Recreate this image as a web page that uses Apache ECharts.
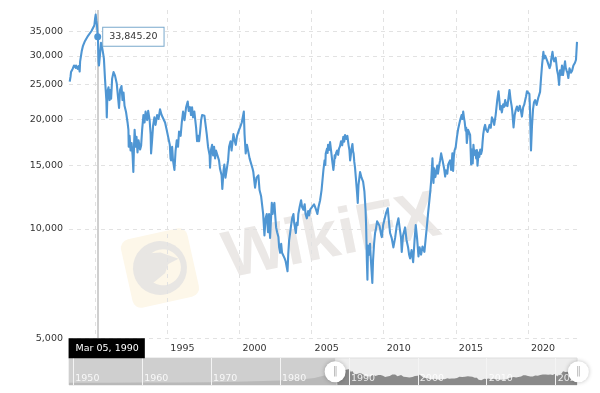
<!DOCTYPE html>
<html>
<head>
<meta charset="utf-8">
<style>html,body{margin:0;padding:0;background:#fff}#c{width:600px;height:393px}</style>
<script src="https://cdn.jsdelivr.net/npm/echarts@6/dist/echarts.min.js"></script>
</head>
<body>
<div id="c"></div>
<script>
const points = [
[1988.23,25450],[1988.29,26350],[1988.32,27050],[1988.43,27600],[1988.53,28200],[1988.64,27800],[1988.67,28200],[1988.78,27600],[1988.85,28100],[1988.92,27150],[1988.95,28900],
[1989.06,30850],[1989.15,31950],[1989.29,32950],[1989.36,32550],[1989.5,34050],[1989.57,33650],[1989.74,35100],[1989.85,35500],[1989.94,36400],[1989.99,38000],
[1990.03,38950],[1990.07,37600],[1990.12,36400],[1990.17,33845],[1990.19,33150],[1990.23,28850],[1990.26,28200],[1990.33,30250],[1990.4,32550],[1990.47,31750],[1990.54,30550],[1990.6,29450],[1990.68,25750],[1990.73,23950],[1990.77,22650],[1990.8,20300],[1990.85,23950],[1990.92,24550],[1990.99,22650],
[1991.03,24150],[1991.1,22850],[1991.17,25950],[1991.27,27050],[1991.37,26450],[1991.49,25150],[1991.58,23050],[1991.65,21550],[1991.72,24150],[1991.82,24750],[1991.89,22650],[1991.96,23750],
[1992.03,21850],[1992.13,21050],[1992.24,19650],[1992.3,18750],[1992.32,16850],[1992.38,18050],[1992.45,16450],[1992.52,17250],[1992.59,15950],[1992.64,14350],[1992.69,17050],[1992.73,18750],[1992.8,16850],[1992.86,17950],[1992.93,16250],
[1993.0,17550],[1993.11,16550],[1993.18,16950],[1993.25,18750],[1993.34,20600],[1993.42,19650],[1993.49,21050],[1993.6,19950],[1993.67,21150],[1993.77,19950],[1993.84,18250],[1993.87,16150],[1993.94,17550],
[1994.01,19250],[1994.1,20300],[1994.18,19350],[1994.29,20600],[1994.39,20100],[1994.49,21350],[1994.6,20600],[1994.7,20400],[1994.84,19650],[1994.94,18850],
[1995.05,19050],[1995.17,17050],[1995.22,15650],[1995.26,15450],[1995.33,16850],[1995.39,15450],[1995.49,14550],[1995.57,16450],[1995.65,17550],[1995.74,16850],[1995.81,18550],[1995.92,18050],
[1996.0,19650],[1996.09,21050],[1996.19,19950],[1996.3,21650],[1996.41,22450],[1996.48,21150],[1996.57,21650],[1996.64,20600],[1996.71,21650],[1996.78,20300],[1996.87,21050],[1996.99,19050],
[1997.06,17450],[1997.13,18050],[1997.2,17450],[1997.27,18550],[1997.34,19950],[1997.41,20600],[1997.57,20500],[1997.65,19350],[1997.73,18250],[1997.82,16850],[1997.93,15950],[1997.96,14750],
[1998.03,16550],[1998.1,17050],[1998.17,15950],[1998.24,16850],[1998.31,15650],[1998.37,16450],[1998.49,16450],[1998.58,15450],[1998.65,14650],[1998.76,14050],[1998.81,12900],[1998.9,14550],[1998.95,15050],
[1999.03,13850],[1999.12,13950],[1999.21,15450],[1999.28,16850],[1999.38,17450],[1999.45,16450],[1999.58,18250],[1999.66,17550],[1999.74,17050],[1999.83,18050],[1999.97,18750],
[2000.04,19050],[2000.16,19650],[2000.3,21050],[2000.35,18250],[2000.43,16150],[2000.52,17050],[2000.61,16850],[2000.7,15650],[2000.8,15650],[2000.91,14650],[2000.96,14350],
[2001.08,13000],[2001.18,13850],[2001.31,14050],[2001.39,12800],[2001.5,12300],[2001.64,11000],[2001.73,9600],[2001.81,10700],[2001.89,11000],[2001.98,9800],
[2002.05,11000],[2002.12,9450],[2002.24,11800],[2002.3,11000],[2002.37,11600],[2002.42,11800],[2002.47,11000],[2002.54,10100],[2002.61,9800],[2002.7,9500],[2002.75,8900],[2002.82,8600],[2002.89,9100],[2002.95,8600],
[2003.05,8650],[2003.13,8300],[2003.2,8150],[2003.33,7650],[2003.38,8500],[2003.44,9300],[2003.51,9750],[2003.58,10250],[2003.65,10700],[2003.74,11000],[2003.79,10400],[2003.91,9750],[2003.96,10400],
[2004.03,10250],[2004.08,11000],[2004.17,11500],[2004.27,12000],[2004.34,11500],[2004.43,11300],[2004.52,11700],[2004.58,11000],[2004.67,10700],[2004.76,11200],[2004.83,10900],[2004.9,11300],
[2005.03,11400],[2005.17,11700],[2005.24,11800],[2005.31,11300],[2005.4,11000],[2005.48,11500],[2005.59,12000],[2005.69,12800],[2005.82,14550],[2005.9,15450],[2005.95,15000],[2005.98,16150],
[2006.04,16000],[2006.07,16650],[2006.11,16200],[2006.14,17050],[2006.21,16500],[2006.28,17350],[2006.35,16450],[2006.43,15400],[2006.51,14550],[2006.57,15300],[2006.6,15950],[2006.63,15650],[2006.7,16200],[2006.77,16450],[2006.84,16000],[2006.9,16650],
[2006.97,16900],[2007.04,17450],[2007.12,17000],[2007.2,17950],[2007.26,17400],[2007.32,18150],[2007.4,17700],[2007.48,18050],[2007.56,17050],[2007.62,16500],[2007.67,15450],[2007.72,16000],[2007.77,16650],[2007.83,17150],[2007.87,16400],[2007.91,16150],[2007.96,15300],
[2008.01,14750],[2008.08,13650],[2008.15,12600],[2008.2,11800],[2008.25,13200],[2008.36,14350],[2008.46,13850],[2008.57,13500],[2008.66,12700],[2008.74,11300],[2008.78,10200],[2008.83,8200],[2008.87,7250],[2008.91,9000],[2008.98,8500],
[2009.05,9100],[2009.12,8100],[2009.21,7100],[2009.26,8200],[2009.33,9100],[2009.4,9750],[2009.45,9950],[2009.54,10500],[2009.63,10600],[2009.71,10200],[2009.82,9650],[2009.87,9500],[2009.96,10250],
[2010.05,10600],[2010.17,11100],[2010.28,11400],[2010.37,10400],[2010.44,9750],[2010.55,9450],[2010.67,8900],[2010.79,9450],[2010.9,10200],
[2011.02,10700],[2011.1,10100],[2011.2,9450],[2011.25,8650],[2011.34,9600],[2011.48,10100],[2011.58,9330],[2011.69,8900],[2011.76,8500],[2011.83,8300],[2011.93,8750],
[2012.04,8100],[2012.14,9330],[2012.22,10250],[2012.31,9450],[2012.41,8400],[2012.49,8900],[2012.59,8500],[2012.69,8950],[2012.82,8650],[2012.9,9330],[2012.99,10150],
[2013.08,11100],[2013.22,12600],[2013.29,13600],[2013.38,15650],[2013.42,14000],[2013.45,13400],[2013.49,14700],[2013.53,14550],[2013.58,13900],[2013.64,14350],[2013.71,14950],[2013.76,14200],[2013.81,14350],[2013.86,15100],[2013.91,15450],[2013.98,16150],
[2014.03,15800],[2014.08,15450],[2014.14,15000],[2014.19,14650],[2014.26,13950],[2014.31,14500],[2014.36,14550],[2014.41,14200],[2014.47,15050],[2014.54,15000],[2014.6,15450],[2014.67,14550],[2014.72,15300],[2014.76,16150],[2014.81,14450],[2014.86,15800],[2014.91,16450],
[2014.99,16800],[2015.07,17850],[2015.16,18850],[2015.3,19950],[2015.4,20600],[2015.46,20100],[2015.51,21050],[2015.56,20300],[2015.61,19750],[2015.68,18650],[2015.72,19000],[2015.76,17250],[2015.81,18000],[2015.85,18750],[2015.92,18950],[2015.99,18150],
[2016.06,15050],[2016.11,16550],[2016.17,15150],[2016.22,17050],[2016.28,16000],[2016.34,16450],[2016.41,15650],[2016.46,16500],[2016.5,14950],[2016.58,16250],[2016.63,15800],[2016.69,16550],[2016.75,16100],[2016.81,16450],[2016.85,17300],[2016.9,18250],
[2016.97,19000],[2017.03,19350],[2017.09,18800],[2017.14,18950],[2017.2,18500],[2017.26,18350],[2017.34,19350],[2017.42,19000],[2017.5,20300],[2017.59,19950],[2017.66,19350],[2017.76,20600],[2017.87,22650],[2017.96,23950],
[2018.03,22350],[2018.07,21350],[2018.13,21800],[2018.19,20950],[2018.28,22050],[2018.35,21700],[2018.42,22650],[2018.47,21900],[2018.52,22250],[2018.58,21800],[2018.63,22650],[2018.72,24150],[2018.8,22650],[2018.87,21800],[2018.91,21150],
[2019.0,19050],[2019.08,20600],[2019.16,21300],[2019.24,21750],[2019.33,21150],[2019.43,21850],[2019.5,21300],[2019.58,20400],[2019.67,21650],[2019.74,22000],[2019.81,22650],[2019.87,23200],[2019.93,23950],
[2020.0,24150],[2020.1,23550],[2020.14,21350],[2020.21,16450],[2020.28,19250],[2020.35,21350],[2020.42,22350],[2020.5,22650],[2020.6,21950],[2020.71,22950],[2020.84,23850],[2020.91,26150],[2020.98,28350],
[2021.07,30750],[2021.12,29500],[2021.16,29250],[2021.2,30000],[2021.26,30050],[2021.34,29000],[2021.42,28650],[2021.5,27750],[2021.56,28200],[2021.61,29250],[2021.7,30750],[2021.76,29400],[2021.82,28950],[2021.92,29650],
[2021.97,28500],[2022.02,27350],[2022.09,26550],[2022.16,24950],[2022.22,27350],[2022.29,26550],[2022.36,28200],[2022.43,26550],[2022.5,27700],[2022.57,28950],[2022.62,27800],[2022.67,27350],[2022.74,26900],[2022.8,26050],[2022.88,27700],[2022.98,26950],
[2023.06,27300],[2023.15,28200],[2023.26,28700],[2023.33,29250],[2023.4,32750]
];
const earlyPoints = [[1949.4,100],[1955,400],[1960,1000],[1965,1300],[1970,2000],[1975,4000],[1980,6500],[1983,9000],[1985,12500],[1987,22000],[1988.23,25450]];
const yTicks = [5000,10000,15000,20000,25000,30000,35000];
const xTicks = [1990,1995,2000,2005,2010,2015,2020];
const xLabels = [1995,2000,2005,2010,2015,2020];
const navTicks = [1950,1960,1970,1980,1990,2000,2010,2020];
const hover = {year:1990.17, value:33845.2, date:'Mar 05, 1990'};
const windowRange = [1988.0, 2023.3];
const font = '"DejaVu Sans", Verdana, sans-serif';
const dash = {color:'#e2e2e2', width:1, type:[4,4]};

const chart = echarts.init(document.getElementById('c'), null, {renderer:'canvas'});
chart.setOption({
  animation:false,
  backgroundColor:'#fff',
  textStyle:{fontFamily:font},
  graphic:[
    {type:'group', x:160, y:268, rotation:0.22, z:0, children:[
      {type:'rect', shape:{x:-34,y:-35,width:68,height:70,r:9}, style:{fill:'#fdf7e9'}},
      {type:'circle', shape:{cx:0,cy:0,r:27}, style:{fill:'#e8e6e3'}},
      {type:'circle', shape:{cx:3,cy:0,r:18}, style:{fill:'#fdf7e9'}},
      {type:'polygon', shape:{points:[[-22,-8],[-10,-17],[4,-15],[20,-5],[9,-2],[4,6],[-4,10],[-12,14],[-18,6]]}, style:{fill:'#e8e6e3'}}
    ]},
    {type:'text', x:332, y:238, rotation:0.2, z:0, style:{text:'WikiFX', font:'bold 66px "Liberation Sans", sans-serif', fill:'#ebe8e6', align:'center', verticalAlign:'middle'}}
  ],
  grid:[
    {left:69, width:508, top:10, height:328.3, show:false},
    {left:69, width:508, top:358, height:27, show:true, backgroundColor:'#ededed', borderColor:'#dedede', borderWidth:1}
  ],
  xAxis:[
    {type:'value', gridIndex:0, min:1988.18, max:2023.4, axisLine:{show:false},
     axisTick:{show:false, customValues:xTicks},
     splitLine:{show:true, lineStyle:dash},
     axisLabel:{customValues:xLabels, formatter:v=>String(v), color:'#333', fontSize:9.5, fontFamily:font, margin:5, align:'left', padding:[0,0,0,3], showMinLabel:true, showMaxLabel:true}},
    {type:'value', gridIndex:1, min:1949.38, max:2023.1, z:5, axisLine:{show:false},
     axisTick:{show:false, customValues:navTicks},
     splitLine:{show:true, lineStyle:{color:'#f4f4f4', width:1}},
     axisLabel:{customValues:navTicks, inside:true, formatter:v=>String(v), color:'rgba(255,255,255,0.85)', fontSize:9.5, fontFamily:font, margin:1, align:'left', padding:[0,0,0,2]}}
  ],
  yAxis:[
    {type:'log', gridIndex:0, min:5000, max:40100, logBase:10, axisLine:{show:false},
     axisTick:{show:false, customValues:yTicks},
     splitLine:{show:true, lineStyle:dash},
     axisLabel:{customValues:yTicks, formatter:v=>Number(v).toLocaleString('en-US'), color:'#333', fontSize:9.5, fontFamily:font, margin:6}},
    {type:'value', gridIndex:1, min:-5450, max:65000, show:false, splitLine:{show:false}}
  ],
  series:[
    {type:'line', name:'Nikkei', xAxisIndex:0, yAxisIndex:0, data:points, showSymbol:false, symbol:'none', z:3,
     lineStyle:{color:'#4f96d3', width:2.1, join:'round'}, silent:true,
     markLine:{silent:true, symbol:'none', z:2, label:{show:false}, lineStyle:{color:'#cfcfcf', width:2, type:'solid'}, data:[{xAxis:hover.year}]}},
    {type:'scatter', xAxisIndex:0, yAxisIndex:0, data:[[hover.year,hover.value]], symbol:'circle', symbolSize:7, z:6, clip:false, silent:true,
     itemStyle:{color:'#4f96d3', opacity:1},
     label:{show:true, position:'right', distance:2, formatter:()=>hover.value.toLocaleString('en-US',{minimumFractionDigits:2}), color:'#333', fontSize:9.5, fontFamily:font,
       backgroundColor:'#fff', borderColor:'#79a9cc', borderWidth:1, padding:[4,6,4,6]}},
    {type:'scatter', xAxisIndex:0, yAxisIndex:0, data:[[hover.year,5000]], symbolSize:0, z:7, clip:false, silent:true,
     itemStyle:{opacity:1},
     label:{show:true, position:'bottom', distance:0, offset:[9,0], formatter:hover.date, color:'#fff', fontSize:9.5, fontFamily:font,
       backgroundColor:'#000', padding:[5,6,5,7]}},
    {type:'line', xAxisIndex:1, yAxisIndex:1, data:earlyPoints, symbol:'none', z:2, lineStyle:{width:0}, areaStyle:{color:'#b9b9b9', opacity:1, origin:'start'}, silent:true,
     markArea:{silent:true, z:1, itemStyle:{color:'#cfcfcf'}, data:[[{xAxis:1949.38},{xAxis:windowRange[0]}]]}},
    {type:'line', xAxisIndex:1, yAxisIndex:1, data:points, symbol:'none', z:2, lineStyle:{width:0}, areaStyle:{color:'#8a8a8a', opacity:1, origin:'start'}, silent:true},
    {type:'scatter', xAxisIndex:1, yAxisIndex:1, data:windowRange.map(x=>[x,29250]), symbol:'circle', symbolSize:21, z:8, clip:false, silent:true,
     itemStyle:{color:'#fff', opacity:1, shadowColor:'rgba(0,0,0,0.25)', shadowBlur:4},
     label:{show:true, position:'inside', formatter:'‖', color:'#b5b5b5', fontSize:10}}
  ]
});
</script>
</body>
</html>
